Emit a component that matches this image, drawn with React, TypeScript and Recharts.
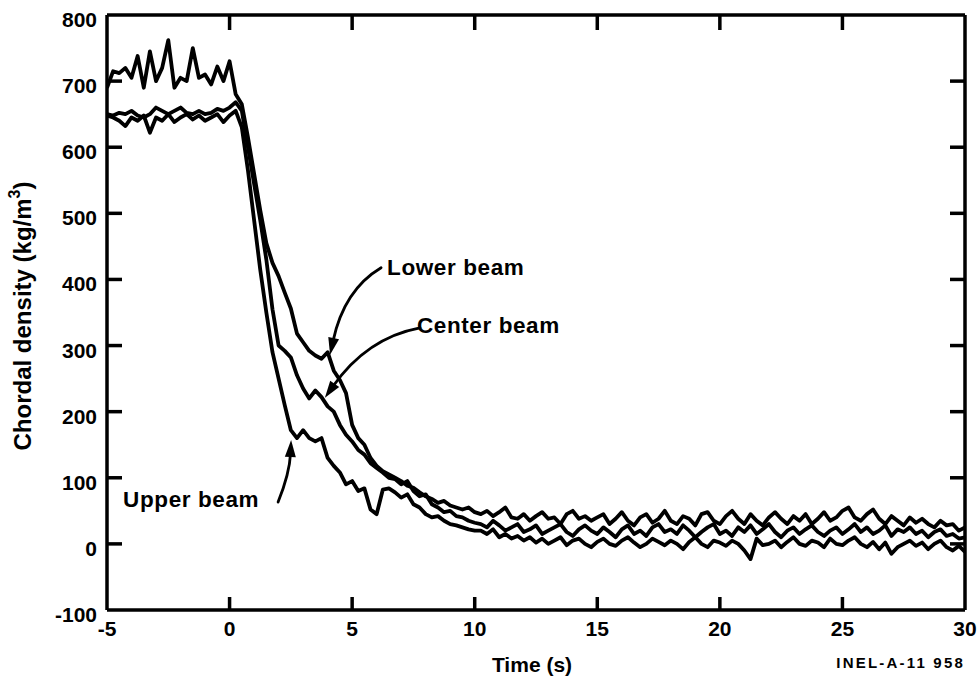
import React from 'react';
import { LineChart, Line, XAxis, YAxis, ReferenceDot } from 'recharts';

// Time (s), step 0.25 s
const TIME = [
  -5, -4.75, -4.5, -4.25, -4, -3.75, -3.5, -3.25, -3, -2.75, -2.5, -2.25, -2, -1.75, -1.5, -1.25, -1, -0.75, -0.5, -0.25,
  0, 0.25, 0.5, 0.75, 1, 1.25, 1.5, 1.75, 2, 2.25, 2.5, 2.75, 3, 3.25, 3.5, 3.75, 4, 4.25, 4.5, 4.75,
  5, 5.25, 5.5, 5.75, 6, 6.25, 6.5, 6.75, 7, 7.25, 7.5, 7.75, 8, 8.25, 8.5, 8.75, 9, 9.25, 9.5, 9.75,
  10, 10.25, 10.5, 10.75, 11, 11.25, 11.5, 11.75, 12, 12.25, 12.5, 12.75, 13, 13.25, 13.5, 13.75, 14, 14.25, 14.5, 14.75,
  15, 15.25, 15.5, 15.75, 16, 16.25, 16.5, 16.75, 17, 17.25, 17.5, 17.75, 18, 18.25, 18.5, 18.75, 19, 19.25, 19.5, 19.75,
  20, 20.25, 20.5, 20.75, 21, 21.25, 21.5, 21.75, 22, 22.25, 22.5, 22.75, 23, 23.25, 23.5, 23.75, 24, 24.25, 24.5, 24.75,
  25, 25.25, 25.5, 25.75, 26, 26.25, 26.5, 26.75, 27, 27.25, 27.5, 27.75, 28, 28.25, 28.5, 28.75, 29, 29.25, 29.5, 29.75,
  30,
];

// Chordal density (kg/m3)
const LOWER = [
  690, 715, 712, 720, 705, 738, 690, 745, 700, 720, 762, 690, 705, 700, 750, 705, 710, 695, 722, 700, 730, 680,
  665, 615, 560, 505, 455, 425, 405, 380, 356, 318, 305, 292, 285, 280, 290, 262, 248, 228, 180, 160,
  150, 130, 118, 110, 105, 100, 95, 88, 85, 78, 72, 68, 62, 65, 58, 55, 52, 55, 48,
  45, 50, 42, 48, 55, 40, 38, 45, 35, 42, 48, 38, 40, 30, 45, 50, 38, 42, 35, 40,
  45, 30, 38, 48, 35, 28, 40, 45, 32, 38, 50, 35, 30, 42, 38, 28, 45, 48, 35, 30,
  42, 50, 38, 30, 45, 35, 28, 40, 48, 38, 30, 42, 35, 45, 30, 38, 48, 35, 40, 50,
  55, 40, 35, 45, 52, 38, 30, 42, 35, 28, 40, 32, 38, 30, 25, 35, 28, 30, 20, 25,
];

const CENTER = [
  650, 648, 652, 650, 655, 648, 645, 650, 660, 655, 650, 655, 660, 652, 650, 655, 650, 652, 658, 655, 660, 668,
  655, 600, 545, 490, 430, 355, 300, 292, 282, 255, 235, 220, 232, 222, 208, 200, 180, 165, 155, 142,
  135, 122, 115, 108, 100, 98, 90, 95, 80, 72, 75, 60, 55, 48, 50, 42, 40, 35, 32,
  30, 25, 35, 28, 20, 25, 30, 18, 22, 28, 15, 20, 25, 30, 18, 12, 22, 28, 20, 15,
  25, 18, 10, 22, 28, 15, 20, 12, 25, 30, 18, 22, 15, 28, 20, 10, 18, 25, 30, 15,
  20, 12, 25, 18, 28, 15, 22, 30, 18, 10, 20, 25, 15, 22, 28, 18, 12, 20, 25, 15,
  22, 30, 18, 25, 15, 20, 28, 12, 22, 18, 25, 15, 20, 10, 18, 22, 12, 15, 8, 10,
];

const UPPER = [
  648, 645, 640, 632, 645, 640, 648, 622, 645, 640, 650, 638, 645, 650, 642, 648, 640, 645, 650, 638, 648, 655,
  630, 565, 490, 415, 350, 290, 250, 210, 172, 160, 172, 160, 155, 160, 130, 118, 108, 90, 95, 80,
  84, 52, 45, 82, 84, 78, 70, 75, 60, 55, 45, 40, 42, 35, 30, 28, 25, 22, 20,
  20, 15, 22, 10, 15, 8, 12, 5, 10, 2, 8, 0, 5, 10, -2, 5, 8, 0, -5, 3,
  8, 0, -3, 5, 10, 2, -5, 0, 8, 3, -2, 5, 0, -8, 3, 10, 0, -5, 5, 2,
  -3, 5, 0, -10, -23, 8, -2, 0, 5, -5, 3, 10, 0, -3, 5, 2, -5, 8, 0, -2,
  5, 10, 0, -5, 3, -8, 2, -15, -5, 0, 5, -3, 2, -8, 0, 5, -5, -10, -3, -12,
];

const X_TICKS = [-5, 0, 5, 10, 15, 20, 25, 30];
const Y_TICKS = [-100, 0, 100, 200, 300, 400, 500, 600, 700, 800];

// Annotation arrow tips (time, density)
const ANN_LABELS = ['Lower beam', 'Center beam', 'Upper beam'];
const ANN_T = [4.1, 3.89, 2.51];
const ANN_V = [286, 221, 157];

const DATA = TIME.map((t, i) => ({ t, lower: LOWER[i], center: CENTER[i], upper: UPPER[i] }));

const FONT = "'Liberation Sans', Arial, Helvetica, sans-serif";
const INK = '#000';
const TICK_LEN = 15;
const TICK_W = 3.5;
const LINE_W = 3.8;

const ANN_LAYOUT: Record<string, { s: number[]; c: number[]; text: number[] }> = {
  'Lower beam': { s: [51, -87], c: [14, -65], text: [57, -80] },
  'Center beam': { s: [95, -70], c: [42, -60], text: [92, -65] },
  'Upper beam': { s: [-13, 62], c: [-1.5, 33], text: [-168, 67] },
};

function Arrow({ cx, cy, label }: { cx: number; cy: number; label: string }) {
  const L = ANN_LAYOUT[label];
  const [sx, sy] = L.s;
  const [qx, qy] = L.c;
  const dx = -qx;
  const dy = -qy;
  const len = Math.hypot(dx, dy) || 1;
  const ux = dx / len;
  const uy = dy / len;
  const hl = 17;
  const hw = 5.5;
  const bx = -ux * hl;
  const by = -uy * hl;
  const px = -uy;
  const py = ux;
  return (
    <g transform={`translate(${cx},${cy})`}>
      <path d={`M${sx},${sy} Q${qx},${qy} ${bx + ux * 3},${by + uy * 3}`} fill="none" stroke={INK} strokeWidth={2.8} strokeLinecap="round" />
      <polygon points={`0,0 ${bx + px * hw},${by + py * hw} ${bx - px * hw},${by - py * hw}`} fill={INK} />
      <text x={L.text[0]} y={L.text[1]} fontFamily={FONT} fontWeight="bold" fontSize={22.5} letterSpacing={0.6} fill={INK}>
        {label}
      </text>
    </g>
  );
}

const BottomTick = (p: any) => {
  const v = p.payload.value;
  return (
    <g>
      {v > -5 && v < 30 && <line x1={p.x} y1={p.y} x2={p.x} y2={p.y - TICK_LEN + 2} stroke={INK} strokeWidth={TICK_W} />}
      <text x={p.x} y={p.y + 26} textAnchor="middle" fontFamily={FONT} fontWeight="bold" fontSize={21} fill={INK}>
        {v}
      </text>
    </g>
  );
};

const TopTick = (p: any) => {
  const v = p.payload.value;
  if (v <= -5 || v >= 30) return <g />;
  return <line x1={p.x} y1={p.y} x2={p.x} y2={p.y + TICK_LEN} stroke={INK} strokeWidth={TICK_W} />;
};

const LeftTick = (p: any) => {
  const v = p.payload.value;
  return (
    <g>
      {v > -100 && v < 800 && <line x1={p.x} y1={p.y} x2={p.x + TICK_LEN} y2={p.y} stroke={INK} strokeWidth={TICK_W} />}
      <text x={p.x - 10} y={p.y + 12} textAnchor="end" fontFamily={FONT} fontWeight="bold" fontSize={21} fill={INK}>
        {v}
      </text>
    </g>
  );
};

const RightTick = (p: any) => {
  const v = p.payload.value;
  if (v <= -100 || v >= 800) return <g />;
  return <line x1={p.x} y1={p.y} x2={p.x - TICK_LEN} y2={p.y} stroke={INK} strokeWidth={TICK_W} />;
};

const XLabels = () => (
  <g>
    <text x={532} y={672} textAnchor="middle" fontFamily={FONT} fontWeight="bold" fontSize={21} fill={INK}>
      Time (s)
    </text>
    <text x={965} y={668} textAnchor="end" fontFamily={FONT} fontWeight="bold" fontSize={15} letterSpacing={2.2} fill={INK}>
      INEL-A-11 958
    </text>
  </g>
);

const YLabel = () => (
  <text x={22} y={316} transform="rotate(-90, 22, 316)" textAnchor="middle" dominantBaseline="central" fontFamily={FONT} fontWeight="bold" fontSize={24} fill={INK}>
    Chordal density (kg/m<tspan fontSize={16} dy={-8}>3</tspan><tspan dy={8}>)</tspan>
  </text>
);

const axisLine = { stroke: INK, strokeWidth: 3.5 };

export default function App() {
  return (
    <div style={{ position: 'absolute', left: 0, top: 0, width: 977, height: 688, background: '#fff' }}>
      <LineChart width={977} height={688} data={DATA} margin={{ top: 14, right: 11, bottom: 38, left: 10 }}>
        <XAxis
          xAxisId="b"
          dataKey="t"
          type="number"
          domain={[-5, 30]}
          ticks={X_TICKS}
          interval={0}
          allowDataOverflow
          height={40}
          tickSize={0}
          tickMargin={0}
          tickLine={false}
          axisLine={axisLine}
          tick={BottomTick}
          label={XLabels}
        />
        <XAxis
          xAxisId="t"
          orientation="top"
          dataKey="t"
          type="number"
          domain={[-5, 30]}
          ticks={X_TICKS}
          interval={0}
          allowDataOverflow
          height={1}
          tickSize={0}
          tickMargin={0}
          tickLine={false}
          axisLine={axisLine}
          tick={TopTick}
        />
        <YAxis
          yAxisId="l"
          type="number"
          domain={[-100, 800]}
          ticks={Y_TICKS}
          interval={0}
          allowDataOverflow
          width={97}
          tickSize={0}
          tickMargin={0}
          tickLine={false}
          axisLine={axisLine}
          tick={LeftTick}
          label={YLabel}
        />
        <YAxis
          yAxisId="r"
          orientation="right"
          type="number"
          domain={[-100, 800]}
          ticks={Y_TICKS}
          interval={0}
          allowDataOverflow
          width={1}
          tickSize={0}
          tickMargin={0}
          tickLine={false}
          axisLine={axisLine}
          tick={RightTick}
        />
        <Line xAxisId="b" yAxisId="l" type="linear" dataKey="lower" stroke={INK} strokeWidth={LINE_W} strokeLinejoin="round" dot={false} isAnimationActive={false} />
        <Line xAxisId="b" yAxisId="l" type="linear" dataKey="center" stroke={INK} strokeWidth={LINE_W} strokeLinejoin="round" dot={false} isAnimationActive={false} />
        <Line xAxisId="b" yAxisId="l" type="linear" dataKey="upper" stroke={INK} strokeWidth={LINE_W} strokeLinejoin="round" dot={false} isAnimationActive={false} />
        {ANN_LABELS.map((label, i) => (
          <ReferenceDot
            key={label}
            xAxisId="b"
            yAxisId="l"
            x={ANN_T[i]}
            y={ANN_V[i]}
            r={1}
            ifOverflow="visible"
            shape={(p: any) => <Arrow cx={p.cx} cy={p.cy} label={label} />}
          />
        ))}
      </LineChart>
    </div>
  );
}
